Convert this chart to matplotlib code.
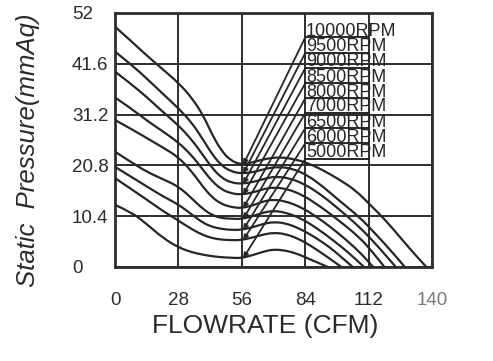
import numpy as np
import matplotlib
matplotlib.use("Agg")
import matplotlib.pyplot as plt
from matplotlib.path import Path
from matplotlib.patches import PathPatch

plt.rcParams['font.family'] = ['Liberation Sans', 'DejaVu Sans']

# fan curves (flow in CFM, static pressure in mmAq)
flow_10000 = [0, 7, 14, 21, 28, 34, 39, 43, 47, 51, 56, 62, 67, 73, 79, 85, 92, 99, 106, 113, 119, 125, 131, 137.5]
pres_10000 = [49.2, 46.3, 43.3, 40.5, 37.7, 34.6, 31.0, 27.0, 23.8, 21.8, 20.9, 21.6, 22.2, 22.5, 22.1, 21.3, 19.8, 17.9, 15.8, 12.6, 9.8, 6.6, 3.3, 0]
flow_9500 = [0, 7, 14, 21, 28, 34, 39, 43, 47, 51, 56, 62, 67, 72, 78, 85, 92, 99, 108, 114, 121, 128]
pres_9500 = [44.1, 41.5, 38.6, 35.5, 32.5, 29.5, 26.0, 23.0, 20.8, 19.6, 19.1, 19.5, 20.2, 20.5, 20.2, 18.8, 16.4, 13.6, 10.2, 7.3, 3.8, 0]
flow_9000 = [0, 7, 14, 21, 28, 34, 39, 43, 47, 51, 56, 62, 67, 71, 77, 84, 91, 98, 108, 116, 124]
pres_9000 = [40.0, 37.5, 34.8, 31.8, 29.0, 26.0, 22.8, 20.2, 18.3, 17.3, 17.0, 17.5, 18.2, 18.5, 18.2, 16.9, 14.8, 12.2, 8.2, 4.3, 0]
flow_8500 = [0, 7, 14, 21, 28, 34, 39, 43, 47, 51, 56, 62, 66, 70, 76, 83, 90, 97, 108, 114, 119]
pres_8500 = [34.7, 32.5, 30.0, 27.8, 25.5, 22.8, 19.8, 17.5, 15.9, 15.1, 14.8, 15.4, 16.0, 16.3, 16.0, 14.7, 12.6, 10.2, 6.1, 2.9, 0]
flow_8000 = [0, 7, 14, 21, 28, 34, 39, 43, 47, 51, 56, 62, 66, 70, 75, 82, 89, 96, 103, 109, 114]
pres_8000 = [30.1, 28.3, 26.4, 24.5, 22.5, 19.5, 16.3, 14.2, 12.9, 12.3, 12.0, 12.8, 13.5, 13.8, 13.5, 12.3, 10.3, 7.9, 5.2, 2.6, 0]
flow_7000 = [0, 7, 14, 21, 28, 34, 39, 43, 47, 51, 56, 62, 66, 70, 75, 82, 89, 96, 103, 110]
pres_7000 = [23.6, 21.5, 19.5, 18.0, 16.5, 14.0, 11.8, 10.6, 10.0, 9.9, 9.8, 10.6, 11.2, 11.5, 11.2, 10.0, 8.0, 5.6, 3.0, 0]
flow_6500 = [0, 7, 14, 21, 28, 34, 39, 43, 47, 51, 56, 62, 66, 70, 75, 81, 88, 95, 100, 105]
pres_6500 = [20.5, 18.5, 16.5, 14.5, 12.8, 10.7, 9.0, 8.2, 7.8, 7.6, 7.6, 8.3, 8.9, 9.2, 9.0, 8.0, 6.2, 4.0, 2.0, 0]
flow_6000 = [0, 7, 14, 21, 28, 34, 39, 43, 47, 51, 56, 62, 66, 70, 75, 81, 87, 93, 100]
pres_6000 = [18.2, 16.0, 13.8, 11.5, 9.5, 7.7, 6.5, 5.9, 5.6, 5.5, 5.5, 6.2, 6.7, 7.0, 6.8, 5.8, 4.2, 2.3, 0]
flow_5000 = [0, 7, 14, 21, 28, 34, 39, 43, 47, 51, 56, 62, 66, 70, 75, 80, 86, 94]
pres_5000 = [12.7, 11.3, 8.8, 6.0, 4.0, 3.0, 2.5, 2.2, 2.0, 1.9, 1.8, 2.6, 3.2, 3.6, 3.4, 2.8, 1.6, 0]

rpm_labels = ["10000RPM", "9500RPM", "9000RPM", "8500RPM", "8000RPM",
              "7000RPM", "6500RPM", "6000RPM", "5000RPM"]
label_line_y = [47.0, 43.8, 40.7, 37.6, 34.5, 31.5, 28.4, 25.3, 22.1]

x_ticks = [0, 28, 56, 84, 112, 140]
y_ticks = [0, 10.4, 20.8, 31.2, 41.6, 52]

curves = [(flow_10000, pres_10000), (flow_9500, pres_9500), (flow_9000, pres_9000),
          (flow_8500, pres_8500), (flow_8000, pres_8000), (flow_7000, pres_7000),
          (flow_6500, pres_6500), (flow_6000, pres_6000), (flow_5000, pres_5000)]

ink = '#262626'


def smooth(ax, x, y):
    # quadratic bezier through midpoints, so the curve looks hand drawn smooth
    pts = np.column_stack([x, y]).astype(float)
    verts = [pts[0]]
    codes = [Path.MOVETO]
    for i in range(1, len(pts) - 1):
        verts += [pts[i], (pts[i] + pts[i + 1]) / 2]
        codes += [Path.CURVE3, Path.CURVE3]
    verts.append(pts[-1])
    codes.append(Path.LINETO)
    ax.add_patch(PathPatch(Path(verts, codes), fill=False, ec=ink, lw=1.6,
                           capstyle='round', joinstyle='round', zorder=3))


fig = plt.figure(figsize=(4.93, 3.61), dpi=100)
ax = fig.add_axes([0.2333, 0.2604, 0.6430, 0.7036])

ax.set_xlim(0, 140)
ax.set_ylim(0, 52)
ax.set_xticks(x_ticks)
ax.set_yticks(y_ticks)
ax.set_xticklabels([str(v) for v in x_ticks])
ax.set_yticklabels(['0', '10.4', '20.8', '31.2', '41.6', '52'])
ax.grid(True, color='#2e2e2e', lw=1.4)
ax.set_axisbelow(True)
for s in ax.spines.values():
    s.set_linewidth(2.0)
    s.set_color('#2e2e2e')

ax.tick_params(axis='both', length=0, labelsize=13.5, colors='#2b2b2b')
ax.tick_params(axis='x', pad=18)
ax.tick_params(axis='y', pad=31)
for t in ax.get_yticklabels():
    t.set_horizontalalignment('left')
ax.get_xticklabels()[-1].set_color('#7a7a7a')

for (fx, py) in curves:
    smooth(ax, fx, py)

# leader lines from each curve at 56 CFM up to its label
for (fx, py), lab, ly in zip(curves, rpm_labels, label_line_y):
    y56 = py[fx.index(56)]
    ax.annotate('', xy=(56.6, y56), xytext=(84, ly),
                arrowprops=dict(arrowstyle='-|>', color=ink, lw=1.3,
                                mutation_scale=7, shrinkA=0, shrinkB=0),
                zorder=4)
    ax.plot([84, 112], [ly, ly], color=ink, lw=1.4, zorder=4)
    ax.text(84.4, ly + 0.35, lab, fontsize=13, color=ink,
            va='baseline', ha='left', zorder=5, clip_on=False)

fig.text(0.057, 0.584, 'Static  Pressure(mmAq)', rotation=90, fontsize=18.5,
         style='italic', color='#2b2b2b', ha='center', va='center')
fig.text(0.5375, 0.097, 'FLOWRATE (CFM)', fontsize=19, color='#2b2b2b',
         ha='center', va='center')

fig.savefig('out.png', dpi=100, facecolor='white')
